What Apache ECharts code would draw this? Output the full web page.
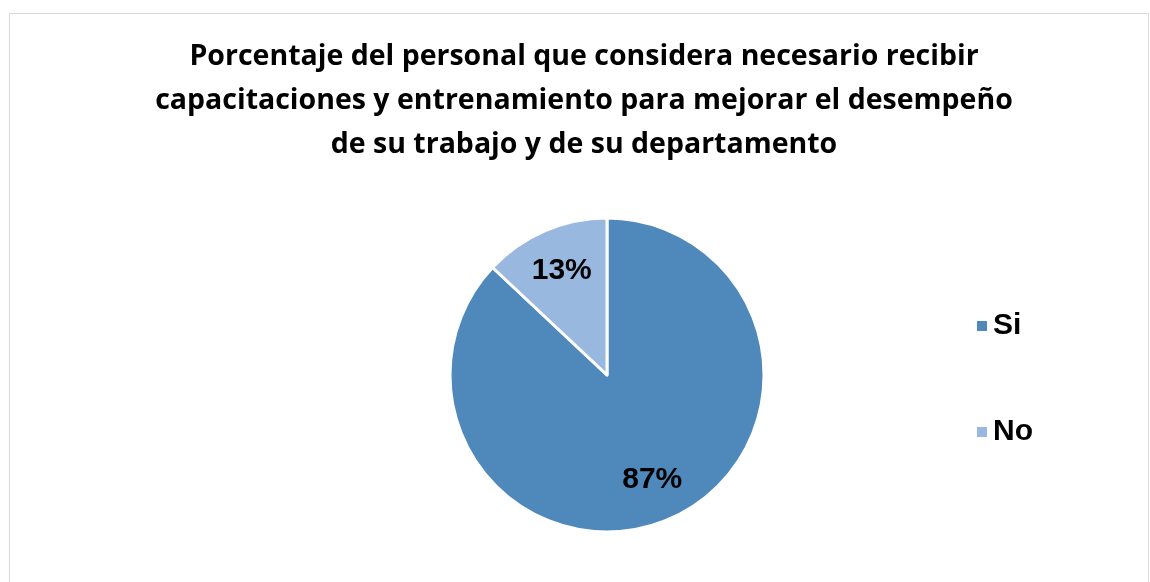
<!DOCTYPE html>
<html>
<head>
<meta charset="utf-8">
<script src="https://cdn.jsdelivr.net/npm/echarts@6/dist/echarts.min.js"></script>
<style>
  html, body { margin: 0; padding: 0; background: #ffffff; }
  #chart { width: 1150px; height: 582px; }
</style>
</head>
<body>
<div id="chart"></div>
<script>
// Respuestas del personal
const categories = ['Si', 'No'];
const values = [87, 13];
const colors = ['#4f89bc', '#98b8df'];

const titleText = 'Porcentaje del personal que considera necesario recibir\ncapacitaciones y entrenamiento para mejorar el desempeño\nde su trabajo y de su departamento';

const pieData = categories.map((name, i) => ({
  name,
  value: values[i],
  itemStyle: { color: colors[i] }
}));

const chart = echarts.init(document.getElementById('chart'));
chart.setOption({
  animation: false,
  backgroundColor: '#ffffff',
  title: {
    text: titleText,
    left: 579,
    textAlign: 'center',
    top: 30,
    textStyle: {
      fontFamily: 'Open Sans',
      fontWeight: 'bold',
      fontSize: 28.5,
      lineHeight: 44,
      color: '#000000'
    }
  },
  legend: {
    data: categories,
    orient: 'vertical',
    left: 970,
    top: 306,
    itemWidth: 12,
    itemHeight: 12,
    itemGap: 76,
    icon: 'rect',
    selectedMode: false,
    textStyle: {
      fontFamily: 'Liberation Sans',
      fontWeight: 'bold',
      fontSize: 30,
      color: '#000000'
    }
  },
  graphic: [{
    type: 'rect',
    shape: { x: 9.5, y: 13.5, width: 1139, height: 600 },
    style: { fill: 'none', stroke: '#d9d9d9', lineWidth: 1 },
    silent: true
  }],
  series: [
    {
      type: 'pie',
      center: [607, 375],
      radius: [0, 157],
      startAngle: 90,
      clockwise: true,
      data: pieData,
      itemStyle: { borderColor: '#ffffff', borderWidth: 3 },
      label: { show: false },
      labelLine: { show: false },
      emphasis: { disabled: true }
    },
    {
      // transparent ring used only to place the percentage labels
      type: 'pie',
      center: [607, 375],
      radius: [0, 222],
      startAngle: 90,
      clockwise: true,
      silent: true,
      data: pieData.map(d => ({ name: d.name, value: d.value })),
      itemStyle: { color: 'rgba(0,0,0,0)' },
      label: {
        show: true,
        position: 'inside',
        formatter: p => p.value + '%',
        fontFamily: 'Liberation Sans',
        fontWeight: 'bold',
        fontSize: 30,
        color: '#000000'
      },
      labelLine: { show: false },
      emphasis: { disabled: true }
    }
  ]
});
</script>
</body>
</html>
